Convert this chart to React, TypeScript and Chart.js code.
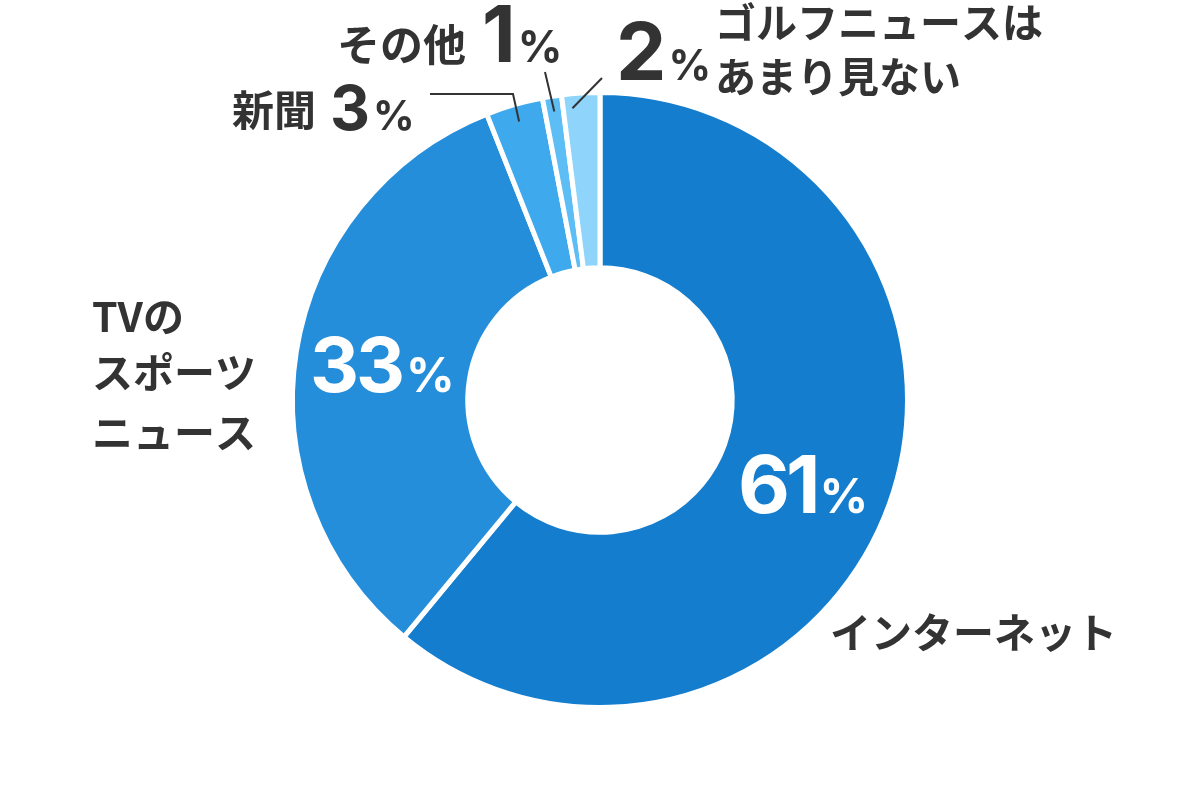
import React, { useEffect, useRef } from "react";
import { Chart, registerables } from "chart.js";
Chart.register(...registerables);

const categories = ["インターネット", "TVのスポーツニュース", "新聞", "その他", "ゴルフニュースはあまり見ない"];
const values = [61, 33, 3, 1, 2];
const colors = ["#147DCE", "#258EDB", "#3EA9EC", "#5DBEF5", "#8ED4FB"];
const pctText = ["61", "33", "3", "1", "2"];

const JP = '"Noto Sans CJK JP", "Noto Sans", sans-serif';
const NUM = 'Inter, Lato, "Noto Sans", sans-serif';
const DARK = "#333333";

function drawPct(ctx: CanvasRenderingContext2D, num: string, x: number, base: number, ns: number, ps: number, color: string, gap = 4, ls = -3) {
  ctx.fillStyle = color;
  ctx.textAlign = "left";
  ctx.textBaseline = "alphabetic";
  (ctx as any).letterSpacing = `${ls}px`;
  ctx.font = `bold ${ns}px ${NUM}`;
  ctx.fillText(num, x, base);
  const w = ctx.measureText(num).width;
  (ctx as any).letterSpacing = "0px";
  ctx.font = `bold ${ps}px ${NUM}`;
  ctx.fillText("%", x + w + gap, base);
}

function drawJP(ctx: CanvasRenderingContext2D, text: string, x: number, cy: number, size: number) {
  ctx.fillStyle = DARK;
  ctx.textAlign = "left";
  ctx.textBaseline = "middle";
  (ctx as any).letterSpacing = "0px";
  ctx.font = `bold ${size}px ${JP}`;
  ctx.fillText(text, x, cy);
}

const labelPlugin = {
  id: "labels",
  afterDraw(chart: any) {
    const ctx: CanvasRenderingContext2D = chart.ctx;
    const meta = chart.getDatasetMeta(0);
    const a0 = meta.data[0];
    const cx = a0.x, cy = a0.y;
    ctx.save();

    const pt = (i: number, frac: number, r: number) => {
      const a = meta.data[i];
      const ang = a.startAngle + (a.endAngle - a.startAngle) * frac;
      return [cx + Math.cos(ang) * r, cy + Math.sin(ang) * r];
    };
    ctx.strokeStyle = DARK;
    ctx.lineWidth = 2;
    ctx.lineCap = "butt";
    let p = pt(2, 0.5, 290);
    ctx.beginPath();
    ctx.moveTo(p[0], p[1]);
    ctx.lineTo(cx - 87, cy - 306);
    ctx.lineTo(cx - 170, cy - 306);
    ctx.stroke();
    p = pt(3, 0.5, 292);
    ctx.beginPath();
    ctx.moveTo(p[0], p[1]);
    ctx.lineTo(cx - 55, cy - 328);
    ctx.stroke();
    p = pt(4, 0.25, 293);
    ctx.beginPath();
    ctx.moveTo(p[0], p[1]);
    ctx.lineTo(cx + 2, cy - 322);
    ctx.stroke();

    drawPct(ctx, pctText[0], cx + 138, cy + 113, 80, 48, "#ffffff", 3, -4);
    drawPct(ctx, pctText[1], cx - 290, cy - 8, 76, 48, "#ffffff", 4, -3);

    drawJP(ctx, "インターネット", cx + 230, cy + 232, 41);
    drawJP(ctx, "TVの", cx - 508, cy - 84, 41);
    drawJP(ctx, "スポーツ", cx - 508, cy - 28, 41);
    drawJP(ctx, "ニュース", cx - 508, cy + 32, 41);

    drawJP(ctx, "新聞", cx - 368, cy - 290, 42);
    drawPct(ctx, pctText[2], cx - 270, cy - 270, 62, 41, DARK, 3, 0);

    drawJP(ctx, "その他", cx - 263, cy - 355, 43);
    drawPct(ctx, pctText[3], cx - 118, cy - 338, 78, 44, DARK, 2, 0);

    drawPct(ctx, pctText[4], cx + 16, cy - 320, 80, 42, DARK, 2, 0);
    drawJP(ctx, "ゴルフニュースは", cx + 115, cy - 378, 41);
    drawJP(ctx, "あまり見ない", cx + 115, cy - 324, 41);

    ctx.restore();
  },
};

export default function App() {
  const ref = useRef<HTMLCanvasElement>(null);
  useEffect(() => {
    if (!ref.current) return;
    const chart = new Chart(ref.current, {
      type: "doughnut",
      data: {
        labels: categories,
        datasets: [
          {
            data: values,
            backgroundColor: colors,
            borderColor: "#ffffff",
            borderWidth: 5,
            hoverOffset: 0,
          },
        ],
      },
      options: {
        responsive: false,
        maintainAspectRatio: false,
        animation: false,
        cutout: "43%",
        layout: { padding: { top: 90, bottom: 90, left: 0, right: 0 } },
        plugins: {
          legend: { display: false },
          tooltip: { enabled: false },
        },
      },
      plugins: [labelPlugin],
    });
    return () => chart.destroy();
  }, []);
  return (
    <div style={{ position: "fixed", left: 0, top: 0, width: 1200, height: 800, background: "#fff" }}>
      <canvas ref={ref} width={1200} height={800} style={{ display: "block" }} />
    </div>
  );
}
